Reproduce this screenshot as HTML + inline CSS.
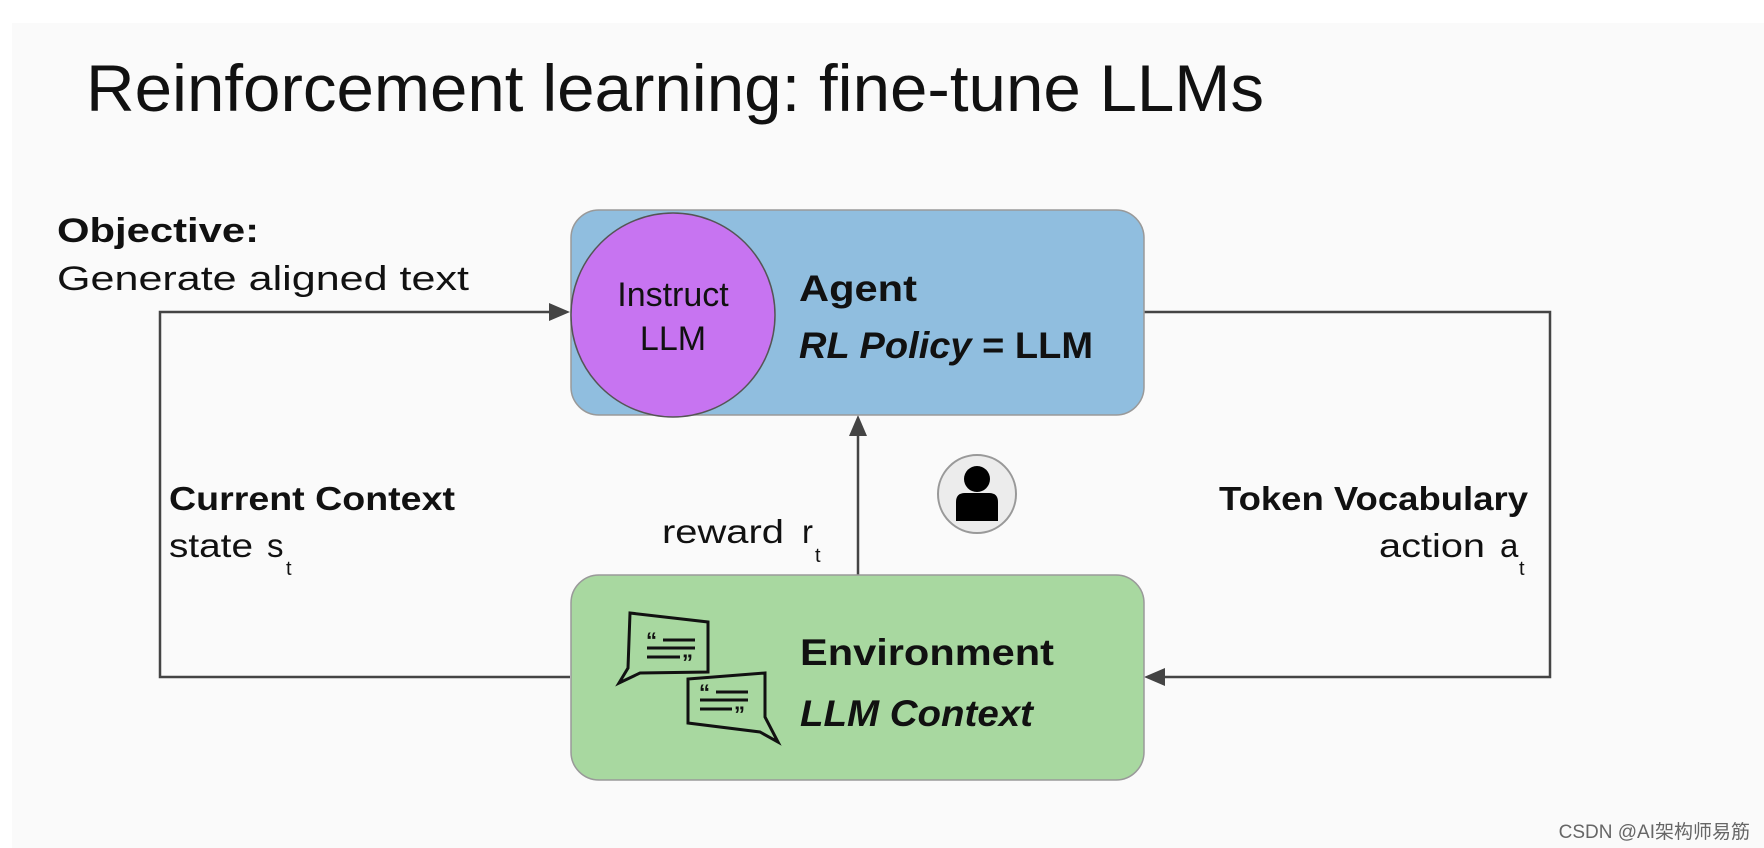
<!DOCTYPE html>
<html><head><meta charset="utf-8"><style>
html,body{margin:0;padding:0;background:#fff;}
svg{display:block;}
text{font-family:"Liberation Sans","Noto Sans CJK SC",sans-serif;fill:#111;}
</style></head><body>
<svg width="1764" height="848" viewBox="0 0 1764 848" xmlns="http://www.w3.org/2000/svg">
<rect x="0" y="0" width="1764" height="848" fill="#fff"/>
<rect x="12" y="23" width="1752" height="825" fill="#fafafa"/>
<text x="86" y="111" font-size="66" textLength="1178" lengthAdjust="spacingAndGlyphs">Reinforcement learning: fine-tune LLMs</text>

<text x="57" y="242" font-size="34" font-weight="bold" textLength="202" lengthAdjust="spacingAndGlyphs">Objective:</text>
<text x="57" y="290" font-size="34" textLength="412" lengthAdjust="spacingAndGlyphs">Generate aligned text</text>

<!-- connectors -->
<g stroke="#444" stroke-width="2.5" fill="none">
<polyline points="570,677 160,677 160,312 556,312"/>
<polyline points="1144,312 1550,312 1550,677 1158,677"/>
<line x1="858" y1="575" x2="858" y2="430"/>
</g>
<polygon points="570,312 549,303 549,321" fill="#444"/>
<polygon points="1144,677 1165,668 1165,686" fill="#444"/>
<polygon points="858,415 849,436 867,436" fill="#444"/>

<!-- agent -->
<rect x="571" y="210" width="573" height="205" rx="28" fill="#90bedf" stroke="#999" stroke-width="1.5"/>
<circle cx="673" cy="315" r="102" fill="#c774f1" stroke="#555" stroke-width="1.5"/>
<text x="673" y="306" font-size="34" text-anchor="middle">Instruct</text>
<text x="673" y="350" font-size="34" text-anchor="middle">LLM</text>
<text x="799" y="301" font-size="37" font-weight="bold" textLength="118" lengthAdjust="spacingAndGlyphs">Agent</text>
<text x="799" y="358" font-size="37" font-weight="bold" textLength="294" lengthAdjust="spacingAndGlyphs"><tspan font-style="italic">RL Policy</tspan> = LLM</text>

<!-- env -->
<rect x="571" y="575" width="573" height="205" rx="28" fill="#a8d8a0" stroke="#999" stroke-width="1.5"/>
<text x="800" y="665" font-size="37" font-weight="bold" textLength="254" lengthAdjust="spacingAndGlyphs">Environment</text>
<text x="800" y="726" font-size="37" font-weight="bold" font-style="italic" textLength="233" lengthAdjust="spacingAndGlyphs">LLM Context</text>
<g stroke="#111" stroke-width="3" fill="none" stroke-linejoin="miter">
<polygon points="630,613 708,622 708,672 640,673 619,683 628,668"/>
<polygon points="688,679 765,673 765,717 778,742 760,732 688,723"/>
<line x1="663" y1="640" x2="695" y2="640"/><line x1="647" y1="648" x2="695" y2="648"/><line x1="647" y1="657" x2="680" y2="657"/>
<line x1="716" y1="692" x2="748" y2="692"/><line x1="700" y1="700" x2="748" y2="700"/><line x1="700" y1="709" x2="732" y2="709"/>
</g>
<text x="646" y="648" font-size="22" font-weight="bold">“</text>
<text x="682" y="670" font-size="22" font-weight="bold">”</text>
<text x="699" y="700" font-size="22" font-weight="bold">“</text>
<text x="734" y="722" font-size="22" font-weight="bold">”</text>

<!-- labels -->
<text x="169" y="510" font-size="33" font-weight="bold" textLength="286" lengthAdjust="spacingAndGlyphs">Current Context</text>
<text x="169" y="557" font-size="33" textLength="84" lengthAdjust="spacingAndGlyphs">state</text>
<text x="267" y="557" font-size="33">s</text>
<text x="286" y="575" font-size="20">t</text>
<text x="662" y="543" font-size="33" textLength="122" lengthAdjust="spacingAndGlyphs">reward</text>
<text x="802" y="543" font-size="33">r</text>
<text x="815" y="562" font-size="20">t</text>
<text x="1528" y="510" font-size="33" font-weight="bold" text-anchor="end" textLength="309" lengthAdjust="spacingAndGlyphs">Token Vocabulary</text>
<text x="1379" y="557" font-size="33" textLength="106" lengthAdjust="spacingAndGlyphs">action</text>
<text x="1500" y="557" font-size="33">a</text>
<text x="1519" y="575" font-size="20">t</text>

<!-- person -->
<circle cx="977" cy="494" r="39" fill="#ececec" stroke="#999" stroke-width="2"/>
<circle cx="977" cy="479" r="13" fill="#000"/>
<path d="M956,521 L956,502 Q956,493 965,493 L989,493 Q998,493 998,502 L998,521 Z" fill="#000"/>

<text x="1750" y="838" font-size="19" text-anchor="end" style="fill:#666">CSDN @AI架构师易筋</text>
</svg>
</body></html>
